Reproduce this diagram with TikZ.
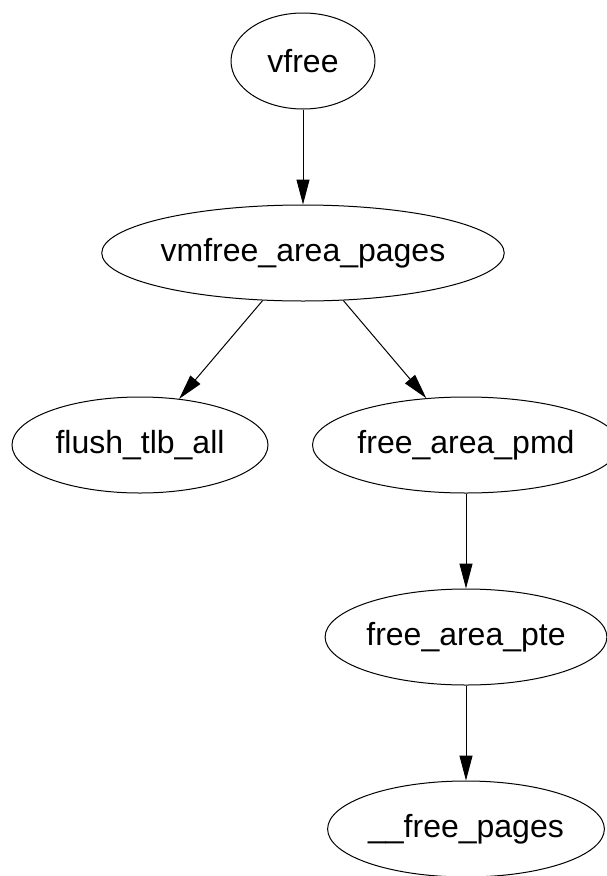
\documentclass[tikz,border=0pt]{standalone}
\usepackage{fontspec}
\setmainfont{Liberation Sans}
\usetikzlibrary{
    shapes.geometric,
    arrows.meta
}
\tikzset{
    func/.style={ellipse, draw, inner sep=0pt, minimum height=96pt,
        font=\fontsize{32}{38}\selectfont},
    >={Triangle[length=25pt,width=13pt]}
}

\begin{document}
\begin{tikzpicture}[x=1pt, y=-1pt, line width=1pt]
                        \useasboundingbox (0, 0) rectangle (606, 876);
                        \node[func, minimum width=144pt] (vfree) at (303, 61) {vfree};
                        \node[func, minimum width=362pt] (vmfree) at (303, 253) {vmfree\_area\_pages};
                        \node[func, minimum width=256pt] (flush) at (140, 445) {flush\_tlb\_all};
                        \node[func, minimum width=300pt] (pmd) at (466, 445) {free\_area\_pmd};
                        \node[func, minimum width=274pt] (pte) at (466, 637) {free\_area\_pte};
                        \node[func, minimum width=268pt] (pages) at (466, 829) {\_\_free\_pages};
                        \draw
                        (vfree) edge[->] (vmfree)
                        (vmfree) edge[->] (flush)
                        (vmfree) edge[->] (pmd)
                        (pmd) edge[->] (pte)
                        (pte) edge[->] (pages);
\end{tikzpicture}
\end{document}
